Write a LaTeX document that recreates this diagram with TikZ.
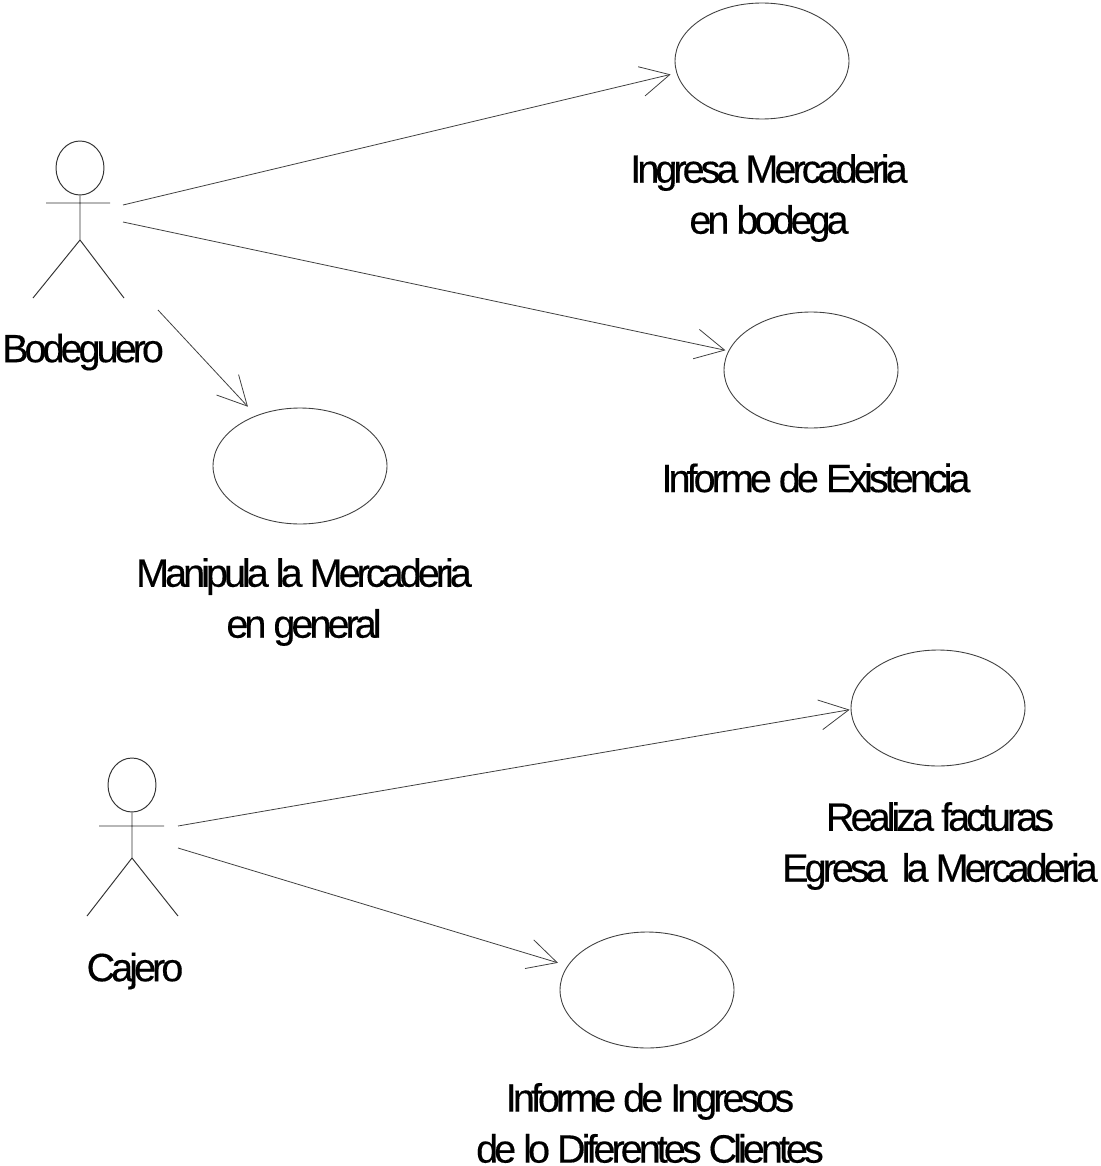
\documentclass[tikz,border=0pt]{standalone}
\usepackage{fontspec}
\setmainfont{Liberation Sans}[LetterSpace=-10,FakeBold=0.35]
\usetikzlibrary{arrows.meta,shapes.geometric}
\tikzset{
  usecase/.style={draw=black!75,ellipse,line width=0.5pt,minimum width=3.48cm,minimum height=2.32cm,inner sep=0pt},
  actorline/.style={draw=black!80,line width=0.55pt},
  assoc/.style={draw=black!75,line width=0.45pt,-{Straight Barb[length=0.58cm,width=0.6cm,line width=0.45pt]}},
  lab/.style={align=center,font=\fontsize{22.5}{29}\selectfont,inner sep=0pt,text=black}
}
\begin{document}
\begin{tikzpicture}[x=0.02cm,y=-0.02cm]
\useasboundingbox (0,0) rectangle (1100,1166);
\fill[white] (0,0) rectangle (1100,1166);
% use cases
\node[usecase] (e1) at (762,61) {};
\node[usecase] (e2) at (811,370) {};
\node[usecase] (e3) at (300,466) {};
\node[usecase] (e4) at (938,708) {};
\node[usecase] (e5) at (647,990) {};
% actors
\node[actorline,ellipse,minimum width=0.96cm,minimum height=1.08cm,inner sep=0pt] (h1) at (80,168) {};
\coordinate (hip1) at (80,240);
\coordinate (aL1) at (46,203);
\coordinate (aR1) at (110,203);
\coordinate (lL1) at (33,298);
\coordinate (lR1) at (124,298);
\draw[actorline] (h1.south) -- (hip1) (aL1) -- (aR1) (lL1) -- (hip1) -- (lR1);
\node[actorline,ellipse,minimum width=0.96cm,minimum height=1.08cm,inner sep=0pt] (h2) at (132,785) {};
\coordinate (hip2) at (132,858);
\coordinate (aL2) at (99,826);
\coordinate (aR2) at (164,826);
\coordinate (lL2) at (87,916);
\coordinate (lR2) at (178,916);
\draw[actorline] (h2.south) -- (hip2) (aL2) -- (aR2) (lL2) -- (hip2) -- (lR2);
% connectors
\coordinate (s1) at (123,205);
\coordinate (s2) at (123,222);
\coordinate (s3) at (158,310);
\coordinate (s4) at (178,826);
\coordinate (s5) at (178,848);
\draw[assoc,shorten >=0.12cm] (s1) -- (e1.188);
\draw[assoc,shorten >=0.06cm] (s2) -- (e2.167);
\draw[assoc,shorten >=0.24cm] (s3) -- (e3.131);
\draw[assoc,shorten >=0.02cm] (s4) -- (e4.181);
\draw[assoc,shorten >=0.2cm] (s5) -- (e5.163);
% labels
\node[lab] (t1) at (769,198) {Ingresa Mercaderia\\en bodega};
\node[lab] (t2) at (816,478) {Informe de Existencia};
\node[lab] (t3) at (304,602) {Manipula la Mercaderia\\en general};
\node[lab] (t4) at (940,846) {Realiza facturas\\Egresa\ \ la Mercaderia};
\node[lab] (t5) at (650,1123) {Informe de Ingresos\\de lo Diferentes Clientes};
\node[lab] (t6) at (83,352) {Bodeguero};
\node[lab] (t7) at (135,971) {Cajero};
\end{tikzpicture}
\end{document}
